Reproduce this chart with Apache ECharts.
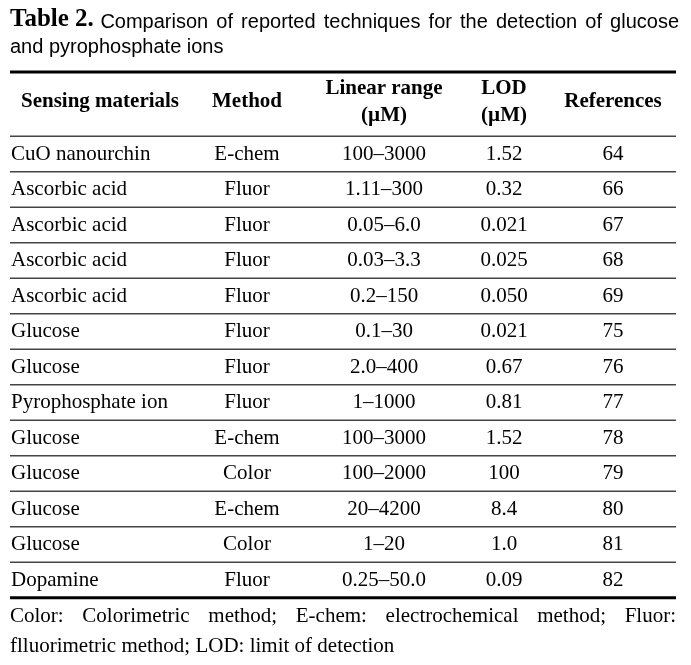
<!DOCTYPE html>
<html>
<head>
<meta charset="utf-8">
<script src="https://cdn.jsdelivr.net/npm/echarts@6/dist/echarts.min.js"></script>
<style>html,body{margin:0;padding:0;background:#fff}#c{width:691px;height:665px}</style>
</head>
<body>
<div id="c"></div>
<script>
// ---- data ----
const titleLabel = 'Table 2.';
const titleLine1 = 'Comparison of reported techniques for the detection of glucose';
const titleLine2 = 'and pyrophosphate ions';
const headerLine1 = ['Sensing materials', 'Method', 'Linear range', 'LOD', 'References'];
const headerLine2 = ['', '', '(\u00b5M)', '(\u00b5M)', ''];
const materials = ['CuO nanourchin', 'Ascorbic acid', 'Ascorbic acid', 'Ascorbic acid', 'Ascorbic acid', 'Glucose', 'Glucose', 'Pyrophosphate ion', 'Glucose', 'Glucose', 'Glucose', 'Glucose', 'Dopamine'];
const methods = ['E-chem', 'Fluor', 'Fluor', 'Fluor', 'Fluor', 'Fluor', 'Fluor', 'Fluor', 'E-chem', 'Color', 'E-chem', 'Color', 'Fluor'];
const ranges = ['100\u20133000', '1.11\u2013300', '0.05\u20136.0', '0.03\u20133.3', '0.2\u2013150', '0.1\u201330', '2.0\u2013400', '1\u20131000', '100\u20133000', '100\u20132000', '20\u20134200', '1\u201320', '0.25\u201350.0'];
const lods = ['1.52', '0.32', '0.021', '0.025', '0.050', '0.021', '0.67', '0.81', '1.52', '100', '8.4', '1.0', '0.09'];
const refs = ['64', '66', '67', '68', '69', '75', '76', '77', '78', '79', '80', '81', '82'];
const footnote1 = 'Color: Colorimetric method; E-chem: electrochemical method; Fluor:';
const footnote2 = 'flluorimetric method; LOD: limit of detection';

// ---- layout (not data) ----
const SERIF = '"Liberation Serif", "Times New Roman", serif';
const SANS = '"Liberation Sans", Arial, sans-serif';
const FS = 21;
const TABLE_L = 10, TABLE_R = 676;
const COL_X = [TABLE_L + 1, 247, 384, 504, 613];      // body: first is left edge, rest centers
const HEAD_X = [100, 247, 384, 504, 613];
const COL_ALIGN = ['left', 'center', 'center', 'center', 'center'];
const TOP_RULE = 72, HEAD_RULE = 136.25, PITCH = 35.5;
const INK = '#000';

const chart = echarts.init(document.getElementById('c'), null, {renderer: 'canvas'});
const rowsIdx = materials.map((_, i) => i);

const mctx = document.createElement('canvas').getContext('2d');
function measure(t, font) { mctx.font = font; return mctx.measureText(t).width; }
function justified(line, x0, x1, y, font) {
  const words = line.split(' ');
  const ws = words.map(w => measure(w, font));
  const total = ws.reduce((a, b) => a + b, 0);
  const gap = (x1 - x0 - total) / (words.length - 1);
  let x = x0;
  return words.map((w, k) => {
    const el = {type: 'text', x: x, y: y, style: {text: w, font: font, fill: INK, verticalAlign: 'middle'}};
    x += ws[k] + gap;
    return el;
  });
}

const graphics = [];
// title
const labelFont = 'bold 25px ' + SERIF;
const sansFont = '20px ' + SANS;
graphics.push({type: 'text', x: TABLE_L, y: 20, style: {text: titleLabel, font: labelFont, fill: INK, verticalAlign: 'middle'}});
const labelW = measure(titleLabel, labelFont) + measure(' ', sansFont) + 1;
graphics.push(...justified(titleLine1, TABLE_L + labelW, TABLE_R + 3, 22, sansFont));
graphics.push({type: 'text', x: TABLE_L, y: 47, style: {text: titleLine2, font: sansFont, fill: INK, verticalAlign: 'middle'}});
// header
headerLine1.forEach((h, c) => {
  const two = headerLine2[c] !== '';
  graphics.push({type: 'text', x: HEAD_X[c], y: two ? 89 : 102,
    style: {text: h, fontFamily: SERIF, fontWeight: 'bold', fontSize: FS, fill: INK, align: 'center', verticalAlign: 'middle'}});
  if (two) graphics.push({type: 'text', x: HEAD_X[c], y: 116,
    style: {text: headerLine2[c], fontFamily: SERIF, fontWeight: 'bold', fontSize: FS, fill: INK, align: 'center', verticalAlign: 'middle'}});
});
// rules at top of table
graphics.push({type: 'line', shape: {x1: TABLE_L, y1: TOP_RULE, x2: TABLE_R, y2: TOP_RULE}, style: {stroke: '#000', lineWidth: 3}});
graphics.push({type: 'line', shape: {x1: TABLE_L, y1: HEAD_RULE, x2: TABLE_R, y2: HEAD_RULE}, style: {stroke: '#444', lineWidth: 1.3}});
// footnotes
const footFont = '21px ' + SERIF;
graphics.push(...justified(footnote1, TABLE_L, TABLE_R, 616, footFont));
graphics.push({type: 'text', x: TABLE_L, y: 646, style: {text: footnote2, font: footFont, fill: INK, verticalAlign: 'middle'}});

chart.setOption({
  animation: false,
  backgroundColor: '#fff',
  grid: {left: TABLE_L, right: 691 - TABLE_R, top: HEAD_RULE, height: PITCH * materials.length, containLabel: false},
  xAxis: {type: 'value', min: 0, max: 100, show: false},
  yAxis: {type: 'category', data: rowsIdx, inverse: true, show: false, boundaryGap: true},
  graphic: graphics,
  series: [{
    type: 'custom',
    coordinateSystem: 'cartesian2d',
    data: rowsIdx.map(i => [0, i]),
    renderItem: function (params, api) {
      const i = api.value(1);
      const cy = api.coord([0, i])[1];
      const band = api.size([0, 1])[1];
      const vals = [materials[i], methods[i], ranges[i], lods[i], refs[i]];
      const children = vals.map((t, c) => ({
        type: 'text',
        style: {text: t, x: COL_X[c], y: cy, align: COL_ALIGN[c], verticalAlign: 'middle',
          fontFamily: SERIF, fontSize: FS, fill: INK}
      }));
      const last = i === materials.length - 1;
      const ly = cy + band / 2;
      children.push({type: 'line', shape: {x1: TABLE_L, y1: ly, x2: TABLE_R, y2: ly},
        style: {stroke: last ? '#000' : '#444', lineWidth: last ? 3 : 1.3}});
      return {type: 'group', children: children};
    }
  }]
});
</script>
</body>
</html>
